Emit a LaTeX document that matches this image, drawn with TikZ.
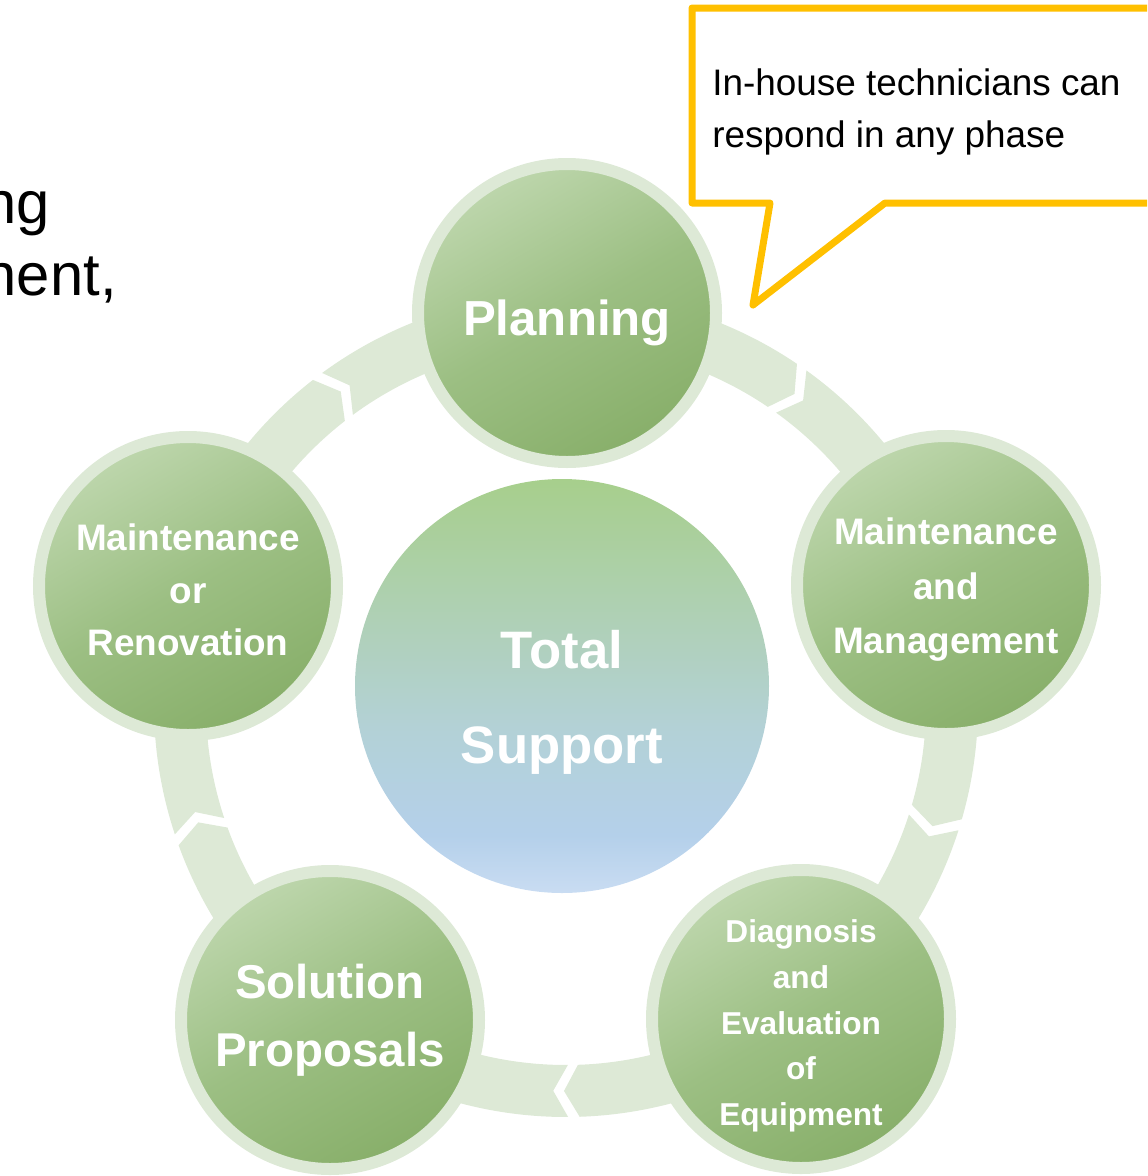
\documentclass[tikz,border=0pt]{standalone}
\usepackage{fontspec}
\setmainfont{Liberation Sans}

\definecolor{bandgreen}{HTML}{DDE9D6}
\definecolor{leafhi}{HTML}{BDD6AC}
\definecolor{leafmid}{HTML}{9CBF83}
\definecolor{leaflo}{HTML}{88AF6A}
\definecolor{skytop}{HTML}{A7CF8C}
\definecolor{skyteal}{HTML}{AFD0B6}
\definecolor{skymid}{HTML}{B3D1D6}
\definecolor{skylow}{HTML}{B4D0EA}
\definecolor{skyedge}{HTML}{C9DCF2}
\definecolor{calloutgold}{HTML}{FFC000}

% green at the top, pale blue at the bottom
\pgfdeclareverticalshading{supportsky}{100bp}{color(0bp)=(skyedge); color(25bp)=(skyedge);
  color(32bp)=(skylow); color(45bp)=(skymid); color(58bp)=(skyteal); color(75bp)=(skytop); color(100bp)=(skytop)}

\begin{document}
\begin{tikzpicture}[
    phase/.style={circle, minimum size=5.96cm, inner sep=0pt,
        draw=bandgreen, line width=0.24cm,
        top color=leafhi, bottom color=leaflo, middle color=leafmid, shading angle=30},
    phasetext/.style n args={2}{text=white, align=center, inner sep=0pt,
        font=\bfseries\fontsize{#1}{#2}\selectfont},
    band/.style={fill=bandgreen},
    callout/.style={draw=calloutgold, line width=0.14cm, line join=round, fill=white},
]
    \path[use as bounding box, clip] (0,0) rectangle (22.94,-23.52);

    % cut-off slide text on the left
    \node[anchor=base east, inner sep=0pt, font=\fontsize{34}{41}\selectfont] (frag1) at (1.00,-4.46) {ng};
    \node[anchor=base east, inner sep=0pt, font=\fontsize{34}{41}\selectfont] (frag2) at (2.34,-5.90) {nent,};

    % ring of chevron arrows, running clockwise
    \begin{scope}[shift={(11.32,-14.10)}]
        \foreach \g in {126,54,-18,-90,-162} {
            \fill[band] ({\g+0.3}:8.24) arc[start angle=\g+0.3, end angle=\g-70.1, radius=8.24]
                -- ({\g-72.3}:7.72) -- ({\g-70.1}:7.2)
                arc[start angle=\g-70.1, end angle=\g+0.3, radius=7.2]
                -- ({\g-1.9}:7.72) -- cycle;
        }
    \end{scope}

    % phases
    \node[phase] (plan) at (11.34,-6.26) {};
    \node[phase] (manage) at (18.92,-11.70) {};
    \node[phase] (diag) at (16.02,-20.38) {};
    \node[phase] (solve) at (6.60,-20.40) {};
    \node[phase] (renov) at (3.76,-11.72) {};

    \node[phasetext={28}{34}] (planText) at ([yshift=-0.2cm]plan) {Planning};
    \node[phasetext={21}{31}] (manageText) at ([yshift=-0.1cm]manage) {Maintenance\\and\\Management};
    \node[phasetext={18}{26}] (diagText) at ([yshift=-0.14cm]diag) {Diagnosis\\and\\Evaluation\\of\\Equipment};
    \node[phasetext={27}{39}] (solveText) at (solve) {Solution\\Proposals};
    \node[phasetext={21}{30}] (renovText) at ([yshift=-0.08cm]renov) {Maintenance\\or\\Renovation};

    % hub
    \node[circle, minimum size=8.28cm, inner sep=0pt, shading=supportsky] (hub) at (11.24,-13.72) {};
    \node[phasetext={30}{54}] (hubText) at ([yshift=-0.32cm]hub) {Total\\Support};

    % speech bubble
    \draw[callout] (13.84,-0.16) -- (23.3,-0.16) -- (23.3,-4.06) -- (17.70,-4.06)
        -- (15.06,-6.10) -- (15.40,-4.06) -- (13.84,-4.06) -- cycle;
    \node[anchor=west, inner sep=0pt, align=left, font=\fontsize{21}{30}\selectfont] (note) at (14.24,-2.24)
        {In-house technicians can\\respond in any phase};
\end{tikzpicture}
\end{document}
